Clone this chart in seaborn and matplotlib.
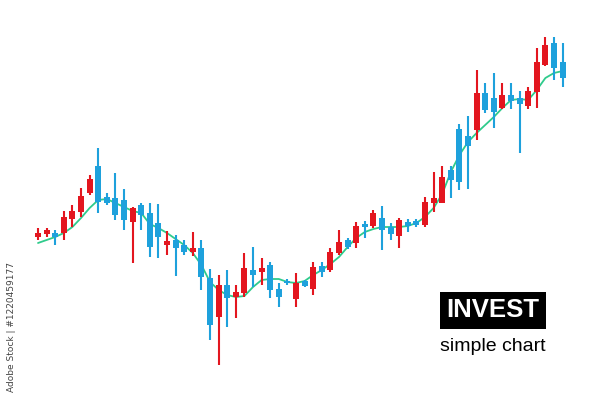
import numpy as np
import pandas as pd
import matplotlib
matplotlib.use("Agg")
import matplotlib.pyplot as plt
import seaborn as sns

# candle data (price units)
opens = [163, 166, 167, 167, 181, 188, 207, 234, 203, 202, 200, 178, 195, 187, 177, 155,
         160, 155, 148, 152, 122, 83, 115, 103, 107, 130, 128, 135, 111, 119, 101, 119,
         111, 134, 130, 147, 160, 157, 176, 174, 182, 173, 164, 178, 179, 175, 197, 197,
         230, 271, 264, 270, 307, 302, 292, 305, 302, 294, 308, 335, 357, 338]
closes = [167, 170, 163, 183, 189, 204, 221, 198, 197, 185, 180, 192, 185, 153, 163, 159,
          152, 148, 152, 123, 75, 115, 102, 108, 132, 125, 132, 110, 103, 117, 117, 114,
          133, 128, 148, 158, 153, 174, 173, 187, 170, 166, 180, 174, 175, 198, 202, 223,
          220, 218, 254, 307, 290, 288, 305, 299, 296, 309, 338, 355, 332, 322]
highs = [172, 172, 170, 189, 195, 212, 225, 252, 207, 227, 211, 193, 197, 197, 196, 169,
         165, 160, 168, 160, 131, 125, 130, 115, 147, 153, 142, 138, 117, 121, 127, 120,
         138, 138, 152, 170, 162, 178, 179, 190, 194, 177, 182, 181, 181, 203, 228, 234,
         234, 276, 284, 330, 317, 327, 317, 317, 309, 313, 352, 363, 363, 357]
lows = [160, 163, 155, 160, 173, 183, 205, 187, 195, 180, 170, 137, 170, 143, 142, 145,
        124, 145, 144, 110, 60, 35, 73, 82, 103, 113, 115, 102, 93, 115, 93, 113,
        105, 123, 128, 145, 151, 152, 162, 172, 150, 160, 152, 168, 173, 173, 188, 197,
        202, 210, 211, 260, 287, 272, 291, 291, 247, 291, 292, 334, 320, 313]
# smooth average line
ma_line = [157, 160, 163, 167, 173, 182, 192, 200, 201, 197, 193, 189, 187, 176, 172, 167,
           161, 155, 147, 135, 118, 110, 105, 103, 104, 113, 120, 121, 121, 118, 117, 119,
           125, 130, 136, 143, 153, 162, 168, 171, 173, 173, 173, 174, 177, 183, 192, 206,
           228, 245, 258, 267, 275, 283, 292, 300, 301, 300, 310, 322, 327, 329]

red = "#e3161f"
blue = "#1ea1dc"
green = "#2fcb8c"

df = pd.DataFrame({"open": opens, "close": closes, "high": highs,
                   "low": lows, "ma": ma_line})
df["t"] = np.arange(len(df))
df["up"] = df["close"] >= df["open"]

sns.set_theme(style="white")
fig = plt.figure(figsize=(6, 4.01), dpi=100)
ax = fig.add_axes([0, 0, 1, 1])

colors = np.where(df["up"], red, blue)
# wicks
ax.vlines(df["t"], df["low"], df["high"], colors=colors, linewidth=1.5, zorder=2)
# bodies
bottom = np.minimum(df["open"], df["close"])
height = np.maximum(np.abs(df["close"] - df["open"]), 2)
ax.bar(df["t"], height, bottom=bottom, width=0.7, color=colors, linewidth=0, zorder=3)

sns.lineplot(data=df, x="t", y="ma", color=green, linewidth=1.3, ax=ax, zorder=1)

ax.set_xlim(-4.42, 65.35)
ax.set_ylim(-1, 400)
ax.axis("off")

# label box
fig.text(0.821, 0.226, "INVEST", color="white", fontsize=18.5, fontweight="bold",
         ha="center", va="center", family="Liberation Sans",
         bbox=dict(boxstyle="square,pad=0.25", fc="black", ec="none"))
fig.text(0.821, 0.137, "simple chart", color="black", fontsize=14,
         ha="center", va="center", family="Liberation Sans")
fig.text(0.02, 0.347, "Adobe Stock | #1220459177", color="#444444", fontsize=6.5,
         rotation=90, ha="center", va="top")

fig.savefig("out.png", dpi=100, facecolor="white")
